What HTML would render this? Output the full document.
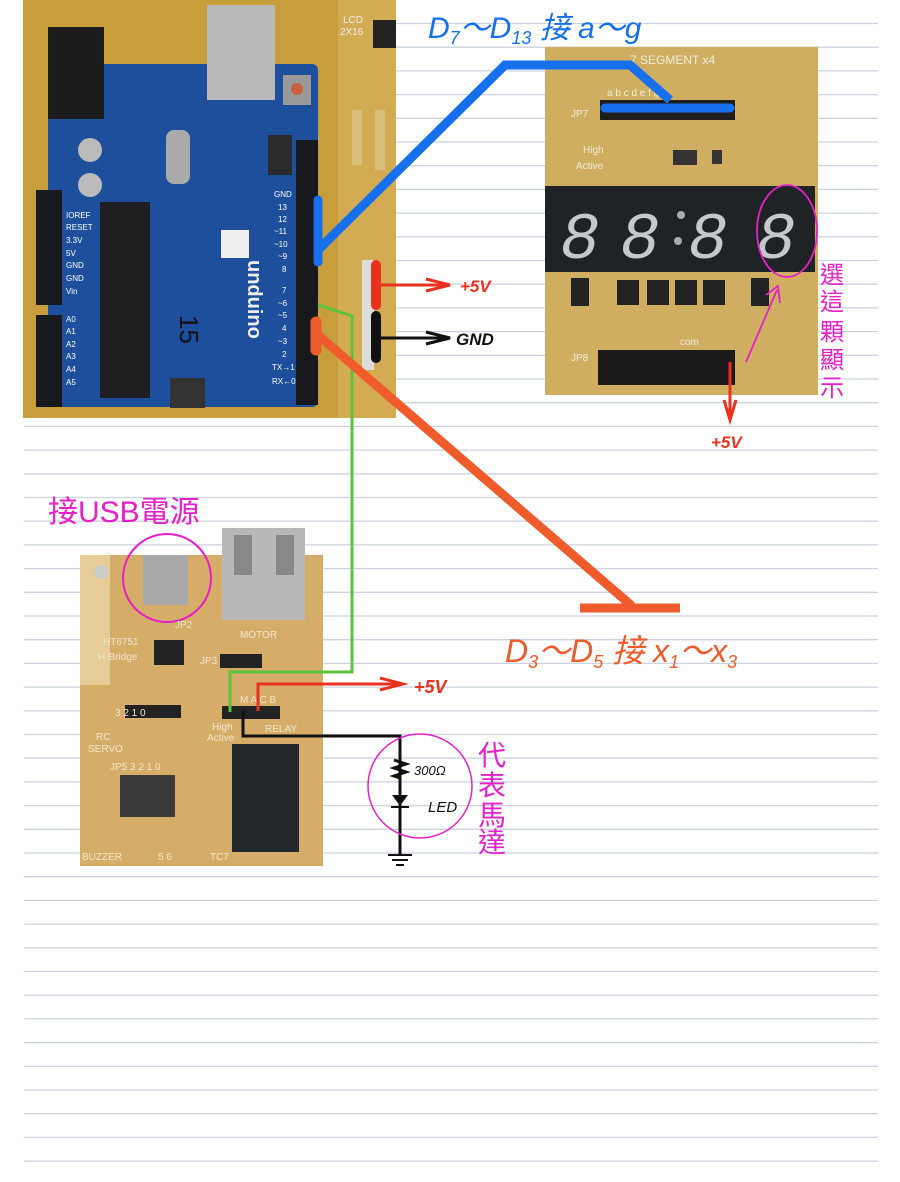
<!DOCTYPE html>
<html><head><meta charset="utf-8"><style>
html,body{margin:0;padding:0;background:#fff;}
body{width:900px;height:1182px;overflow:hidden;position:relative;font-family:"Liberation Sans","Noto Sans CJK TC",sans-serif;}
svg{position:absolute;left:0;top:0;}
</style></head><body>
<svg width="900" height="1182" viewBox="0 0 900 1182">
<!-- ruled lines -->
<g stroke="#cbd3e0" stroke-width="1.3">
<line x1="24" y1="23.5" x2="878" y2="23.5"/><line x1="24" y1="47.2" x2="878" y2="47.2"/><line x1="24" y1="70.9" x2="878" y2="70.9"/><line x1="24" y1="94.6" x2="878" y2="94.6"/><line x1="24" y1="118.3" x2="878" y2="118.3"/><line x1="24" y1="142" x2="878" y2="142"/><line x1="24" y1="165.7" x2="878" y2="165.7"/><line x1="24" y1="189.4" x2="878" y2="189.4"/><line x1="24" y1="213.1" x2="878" y2="213.1"/><line x1="24" y1="236.8" x2="878" y2="236.8"/><line x1="24" y1="260.5" x2="878" y2="260.5"/><line x1="24" y1="284.2" x2="878" y2="284.2"/><line x1="24" y1="307.9" x2="878" y2="307.9"/><line x1="24" y1="331.6" x2="878" y2="331.6"/><line x1="24" y1="355.3" x2="878" y2="355.3"/><line x1="24" y1="379" x2="878" y2="379"/><line x1="24" y1="402.7" x2="878" y2="402.7"/><line x1="24" y1="426.4" x2="878" y2="426.4"/><line x1="24" y1="450.1" x2="878" y2="450.1"/><line x1="24" y1="473.8" x2="878" y2="473.8"/><line x1="24" y1="497.5" x2="878" y2="497.5"/><line x1="24" y1="521.2" x2="878" y2="521.2"/><line x1="24" y1="544.9" x2="878" y2="544.9"/><line x1="24" y1="568.6" x2="878" y2="568.6"/><line x1="24" y1="592.3" x2="878" y2="592.3"/><line x1="24" y1="616" x2="878" y2="616"/><line x1="24" y1="639.7" x2="878" y2="639.7"/><line x1="24" y1="663.4" x2="878" y2="663.4"/><line x1="24" y1="687.1" x2="878" y2="687.1"/><line x1="24" y1="710.8" x2="878" y2="710.8"/><line x1="24" y1="734.5" x2="878" y2="734.5"/><line x1="24" y1="758.2" x2="878" y2="758.2"/><line x1="24" y1="781.9" x2="878" y2="781.9"/><line x1="24" y1="805.6" x2="878" y2="805.6"/><line x1="24" y1="829.3" x2="878" y2="829.3"/><line x1="24" y1="853" x2="878" y2="853"/><line x1="24" y1="876.7" x2="878" y2="876.7"/><line x1="24" y1="900.4" x2="878" y2="900.4"/><line x1="24" y1="924.1" x2="878" y2="924.1"/><line x1="24" y1="947.8" x2="878" y2="947.8"/><line x1="24" y1="971.5" x2="878" y2="971.5"/><line x1="24" y1="995.2" x2="878" y2="995.2"/><line x1="24" y1="1018.9" x2="878" y2="1018.9"/><line x1="24" y1="1042.6" x2="878" y2="1042.6"/><line x1="24" y1="1066.3" x2="878" y2="1066.3"/><line x1="24" y1="1090" x2="878" y2="1090"/><line x1="24" y1="1113.7" x2="878" y2="1113.7"/><line x1="24" y1="1137.4" x2="878" y2="1137.4"/><line x1="24" y1="1161.1" x2="878" y2="1161.1"/>
</g>

<!-- Arduino photo -->
<rect x="23" y="0" width="373" height="418" fill="#c89e3c"/>
<rect x="338" y="0" width="58" height="418" fill="#d2ab52"/>
<rect x="48" y="64" width="270" height="343" rx="6" fill="#1d4f9d"/>
<rect x="207" y="5" width="68" height="95" fill="#b9b9b9"/>
<rect x="48" y="27" width="56" height="92" fill="#1c1c1c"/>
<rect x="100" y="202" width="50" height="196" fill="#1f1f22"/>
<rect x="296" y="140" width="22" height="265" fill="#17191d"/>
<rect x="36" y="190" width="26" height="115" fill="#17191d"/>
<rect x="36" y="315" width="26" height="92" fill="#17191d"/>
<circle cx="90" cy="150" r="12" fill="#bbb"/><circle cx="90" cy="185" r="12" fill="#bbb"/>
<rect x="166" y="130" width="24" height="54" rx="8" fill="#aaa"/>
<rect x="283" y="75" width="28" height="30" fill="#999"/><circle cx="297" cy="89" r="6" fill="#c86040"/>
<rect x="268" y="135" width="24" height="40" fill="#2a2a2a"/>
<rect x="170" y="378" width="35" height="30" fill="#333"/>
<rect x="221" y="230" width="28" height="28" fill="#eee"/>
<text x="248" y="260" fill="#eee" font-size="20" font-weight="bold" transform="rotate(90 248 260)">unduino</text>
<text x="180" y="315" fill="#111" font-size="26" transform="rotate(90 180 315)">15</text>
<g fill="#fff" font-size="8"><text x="274" y="197">GND</text><text x="278" y="210">13</text><text x="278" y="222">12</text><text x="274" y="234">~11</text><text x="274" y="247">~10</text><text x="278" y="259">~9</text><text x="282" y="272">8</text><text x="282" y="293">7</text><text x="278" y="306">~6</text><text x="278" y="318">~5</text><text x="282" y="331">4</text><text x="278" y="344">~3</text><text x="282" y="357">2</text><text x="272" y="370">TX→1</text><text x="272" y="384">RX←0</text>
<text x="66" y="218">IOREF</text><text x="66" y="230">RESET</text><text x="66" y="243">3.3V</text><text x="66" y="256">5V</text><text x="66" y="268">GND</text><text x="66" y="281">GND</text><text x="66" y="294">Vin</text><text x="66" y="322">A0</text><text x="66" y="334">A1</text><text x="66" y="347">A2</text><text x="66" y="359">A3</text><text x="66" y="372">A4</text><text x="66" y="385">A5</text></g>
<text x="343" y="23" fill="#eee" font-size="10">LCD</text><text x="340" y="35" fill="#eee" font-size="10">2X16</text>
<rect x="373" y="20" width="23" height="28" fill="#222"/>
<rect x="352" y="110" width="10" height="55" fill="#d8c07a"/><rect x="375" y="110" width="10" height="60" fill="#d8c07a"/>
<rect x="362" y="260" width="12" height="110" fill="#ddd"/>

<!-- 7 segment photo -->
<rect x="545" y="47" width="273" height="348" fill="#cfae62"/>
<text x="630" y="64" fill="#f2ecd8" font-size="12">7 SEGMENT x4</text>
<g fill="#f2ecd8" font-size="10"><text x="607" y="96">a b c d e f g</text><text x="571" y="117">JP7</text><text x="583" y="153">High</text><text x="576" y="169">Active</text><text x="571" y="361">JP8</text><text x="680" y="345">com</text></g>
<rect x="600" y="100" width="135" height="20" fill="#1d1d1d"/>
<rect x="673" y="150" width="24" height="15" fill="#333"/><rect x="712" y="150" width="10" height="14" fill="#333"/>
<rect x="545" y="186" width="270" height="86" fill="#1f2326"/>
<g fill="#c5c9cc" font-family="Liberation Mono" font-size="66" font-style="italic"><text x="560" y="258">8</text><text x="620" y="258">8</text><text x="688" y="258">8</text><text x="756" y="258">8</text></g>
<circle cx="681" cy="215" r="4" fill="#aaa"/><circle cx="678" cy="241" r="4" fill="#aaa"/>
<g fill="#222"><rect x="571" y="278" width="18" height="28"/><rect x="617" y="280" width="22" height="25"/><rect x="647" y="280" width="22" height="25"/><rect x="675" y="280" width="22" height="25"/><rect x="703" y="280" width="22" height="25"/><rect x="751" y="278" width="18" height="28"/></g>
<rect x="598" y="350" width="137" height="35" fill="#1b1b1b"/>
<ellipse cx="787" cy="231" rx="30" ry="46" fill="none" stroke="#e520c8" stroke-width="1.8"/>
<line x1="746" y1="362" x2="777" y2="290" stroke="#e520c8" stroke-width="1.8"/>
<path d="M766 295 L778 286 L780 303" fill="none" stroke="#e520c8" stroke-width="1.8"/>
<g fill="#e520c8" font-size="24"><text x="820" y="283">選</text><text x="820" y="310">這</text><text x="820" y="340">顆</text><text x="820" y="368">顯</text><text x="820" y="396">示</text></g>

<!-- relay board photo -->
<rect x="80" y="555" width="243" height="311" fill="#d5ac68"/>
<rect x="80" y="555" width="30" height="130" fill="#e6cc98"/>
<circle cx="101" cy="572" r="7" fill="#ccc"/>
<rect x="222" y="528" width="83" height="92" fill="#b8b8b8"/><rect x="234" y="535" width="18" height="40" fill="#888"/><rect x="276" y="535" width="18" height="40" fill="#888"/>
<rect x="143" y="555" width="45" height="50" fill="#a9a9a9"/>
<circle cx="167" cy="578" r="44" fill="none" stroke="#e520c8" stroke-width="2"/>
<rect x="154" y="640" width="30" height="25" fill="#222"/>
<rect x="220" y="654" width="42" height="14" fill="#222"/>
<rect x="125" y="705" width="56" height="13" fill="#222"/>
<rect x="120" y="775" width="55" height="42" fill="#3a3a3a"/>
<rect x="222" y="706" width="58" height="13" fill="#222"/>
<rect x="232" y="744" width="67" height="108" fill="#24272b"/>
<g fill="#f2e6cc" font-size="10"><text x="96" y="740">RC</text><text x="88" y="752">SERVO</text><text x="103" y="645">HT6751</text><text x="98" y="660">H-Bridge</text><text x="115" y="716">3 2 1 0</text><text x="110" y="770">JP5 3 2 1 0</text><text x="82" y="860">BUZZER</text><text x="158" y="860">5 6</text><text x="210" y="860">TC7</text><text x="212" y="730">High</text><text x="207" y="741">Active</text><text x="240" y="703">M A C B</text><text x="265" y="732">RELAY</text><text x="175" y="628">JP2</text><text x="240" y="638">MOTOR</text><text x="200" y="664">JP3</text></g>
<text x="48" y="522" fill="#e520c8" font-size="30">接USB電源</text>

<!-- circuit -->
<polyline points="243,711 243,736 400,736 400,855" fill="none" stroke="#111" stroke-width="3"/>
<path d="M394 760 L406 764 L394 768 L406 772 L394 776 L400 778" fill="none" stroke="#111" stroke-width="3"/>
<path d="M392 795 L408 795 L400 806 Z" fill="#111"/><line x1="391" y1="807" x2="409" y2="807" stroke="#111" stroke-width="2"/>
<line x1="388" y1="855" x2="412" y2="855" stroke="#111" stroke-width="2"/><line x1="392" y1="860" x2="408" y2="860" stroke="#111" stroke-width="2"/><line x1="396" y1="865" x2="404" y2="865" stroke="#111" stroke-width="2"/>
<text x="414" y="775" fill="#111" font-size="13" font-style="italic">300Ω</text>
<text x="428" y="812" fill="#111" font-size="15" font-style="italic">LED</text>
<circle cx="420" cy="786" r="52" fill="none" stroke="#e520c8" stroke-width="1.5"/>
<g fill="#e520c8" font-size="28"><text x="478" y="765">代</text><text x="478" y="795">表</text><text x="478" y="825">馬</text><text x="478" y="852">達</text></g>
<polyline points="258,711 258,684 400,684" fill="none" stroke="#e8321e" stroke-width="3"/>
<path d="M380 678 L403 684 L380 690" fill="none" stroke="#e8321e" stroke-width="3"/>
<text x="414" y="693" fill="#e8321e" font-size="18" font-weight="bold" font-style="italic">+5V</text>
<polyline points="318,305 352,316 352,672 230,672 230,712" fill="none" stroke="#5cc23c" stroke-width="3"/>
<line x1="318" y1="200" x2="318" y2="262" stroke="#1670ee" stroke-width="9" stroke-linecap="round"/>
<polyline points="318,250 505,65 630,65 670,100" fill="none" stroke="#1670ee" stroke-width="9"/>
<line x1="605" y1="108" x2="730" y2="108" stroke="#1670ee" stroke-width="9" stroke-linecap="round"/>
<line x1="316" y1="322" x2="316" y2="350" stroke="#ef5b2a" stroke-width="11" stroke-linecap="round"/>
<line x1="318" y1="335" x2="632" y2="606" stroke="#ef5b2a" stroke-width="9"/>
<line x1="580" y1="608" x2="680" y2="608" stroke="#ef5b2a" stroke-width="9"/>
<line x1="376" y1="265" x2="376" y2="305" stroke="#e8321e" stroke-width="10" stroke-linecap="round"/>
<line x1="376" y1="285" x2="448" y2="285" stroke="#e8321e" stroke-width="3"/><path d="M426 279 L450 285 L426 291" fill="none" stroke="#e8321e" stroke-width="3"/>
<line x1="376" y1="316" x2="376" y2="358" stroke="#111" stroke-width="10" stroke-linecap="round"/>
<line x1="376" y1="338" x2="448" y2="338" stroke="#111" stroke-width="3"/><path d="M426 332 L450 338 L426 344" fill="none" stroke="#111" stroke-width="3"/>
<text x="460" y="292" fill="#e8321e" font-size="17" font-weight="bold" font-style="italic">+5V</text>
<text x="456" y="345" fill="#111" font-size="17" font-weight="bold" font-style="italic">GND</text>
<line x1="730" y1="362" x2="730" y2="418" stroke="#e8321e" stroke-width="3"/><path d="M724 400 L730 420 L736 400" fill="none" stroke="#e8321e" stroke-width="3"/>
<text x="711" y="448" fill="#e8321e" font-size="17" font-weight="bold" font-style="italic">+5V</text>
<text x="428" y="38" fill="#1670ee" font-size="30" font-style="italic">D<tspan font-size="18" dy="6">7</tspan><tspan dy="-6">～D</tspan><tspan font-size="18" dy="6">13</tspan><tspan dy="-6"> 接 a～g</tspan></text>
<text x="505" y="662" fill="#ef5b2a" font-size="32" font-style="italic">D<tspan font-size="18" dy="6">3</tspan><tspan dy="-6">～D</tspan><tspan font-size="18" dy="6">5</tspan><tspan dy="-6"> 接 x</tspan><tspan font-size="18" dy="6">1</tspan><tspan dy="-6">～x</tspan><tspan font-size="18" dy="6">3</tspan></text>
</svg>
</body></html>
